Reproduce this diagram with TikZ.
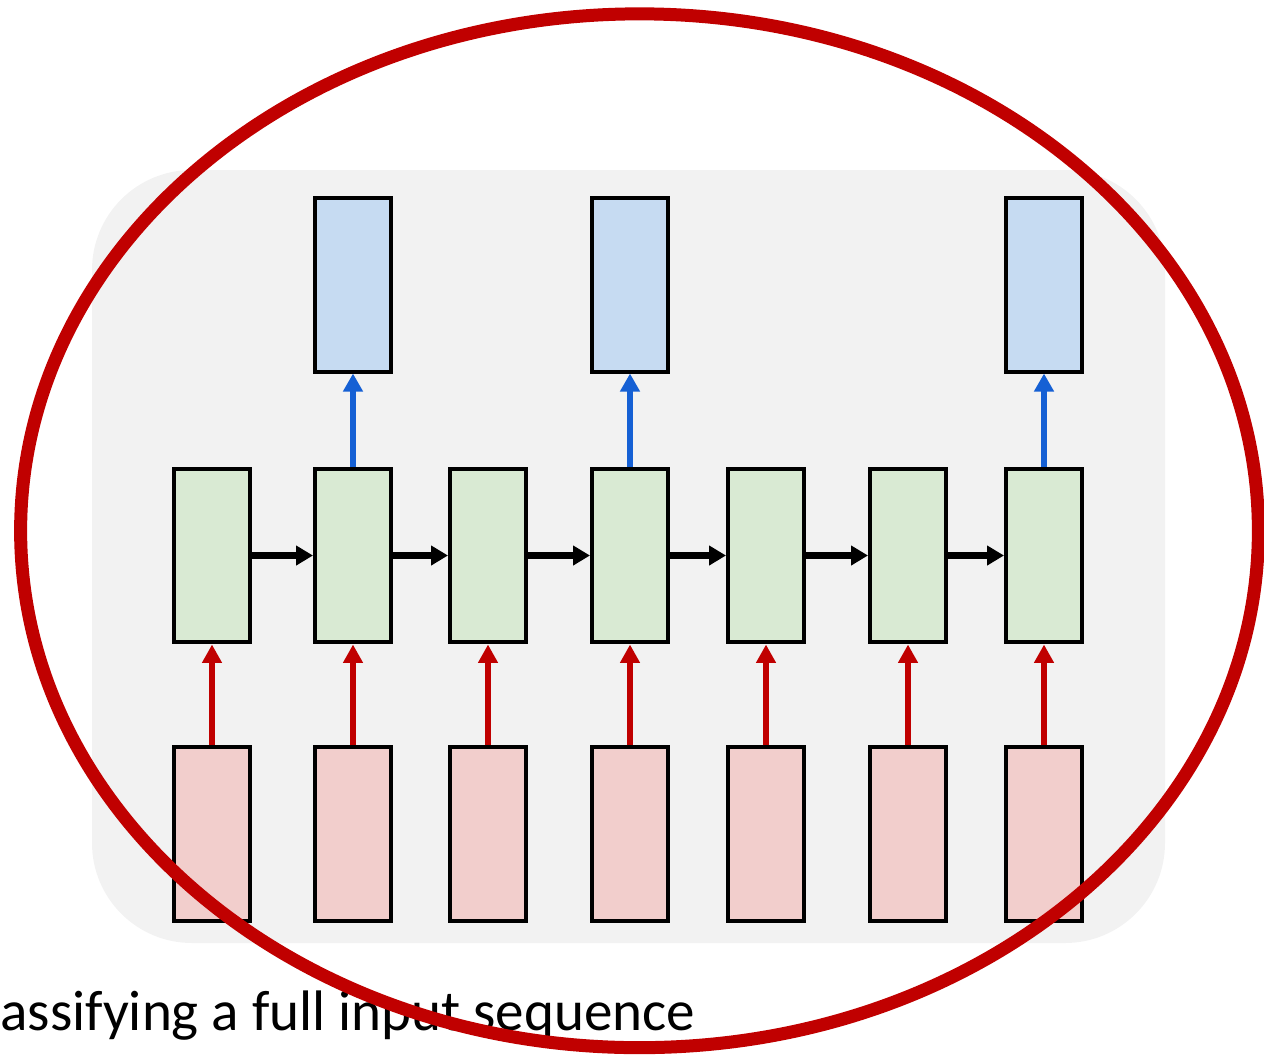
\documentclass[tikz,border=0pt]{standalone}
\usepackage{fontspec}
\setmainfont{Carlito}
\usepackage{tikz}
\usetikzlibrary{arrows.meta,positioning}
\definecolor{bgGray}{HTML}{F2F2F2}
\definecolor{hidGreen}{HTML}{D9EAD3}
\definecolor{outBlue}{HTML}{C6DBF2}
\definecolor{inPink}{HTML}{F2CECC}
\definecolor{ringRed}{HTML}{C00000}
\definecolor{upBlue}{HTML}{1560D4}
\tikzstyle{cell}=[rectangle, draw=black, line width=0.08cm,
		minimum width=1.52cm, minimum height=3.48cm, inner sep=0pt]
\tikzstyle{hidden}=[cell, fill=hidGreen]
\tikzstyle{output}=[cell, fill=outBlue]
\tikzstyle{input}=[cell, fill=inPink]
\tikzstyle{recur}=[-{Triangle[length=0.34cm,width=0.38cm]}, line width=0.13cm, black]
\tikzstyle{feed}=[-{Triangle[length=0.37cm,width=0.38cm]}, line width=0.13cm, ringRed]
\tikzstyle{emit}=[-{Triangle[length=0.36cm,width=0.38cm]}, line width=0.13cm, upBlue]

\begin{document}
\begin{tikzpicture}[x=0.02cm, y=-0.02cm]

    \useasboundingbox (0,0) rectangle (1264,1059);
    \fill[bgGray, rounded corners=2cm] (92,170) rectangle (1165,943);

    % hidden states
    \node (H1) [hidden] at (212,555.5) {};
    \node (H2) [hidden] at (353,555.5) {};
    \node (H3) [hidden] at (488,555.5) {};
    \node (H4) [hidden] at (630,555.5) {};
    \node (H5) [hidden] at (766,555.5) {};
    \node (H6) [hidden] at (908,555.5) {};
    \node (H7) [hidden] at (1044,555.5) {};

    % inputs
    \node (X1) [input, below=2.02cm of H1] {};
    \node (X2) [input, below=2.02cm of H2] {};
    \node (X3) [input, below=2.02cm of H3] {};
    \node (X4) [input, below=2.02cm of H4] {};
    \node (X5) [input, below=2.02cm of H5] {};
    \node (X6) [input, below=2.02cm of H6] {};
    \node (X7) [input, below=2.02cm of H7] {};

    % outputs
    \node (Y2) [output, above=1.86cm of H2] {};
    \node (Y4) [output, above=1.86cm of H4] {};
    \node (Y7) [output, above=1.86cm of H7] {};

    \draw [recur] (H1) -- (H2);
    \draw [recur] (H2) -- (H3);
    \draw [recur] (H3) -- (H4);
    \draw [recur] (H4) -- (H5);
    \draw [recur] (H5) -- (H6);
    \draw [recur] (H6) -- (H7);

    \draw [feed] (X1) -- (H1);
    \draw [feed] (X2) -- (H2);
    \draw [feed] (X3) -- (H3);
    \draw [feed] (X4) -- (H4);
    \draw [feed] (X5) -- (H5);
    \draw [feed] (X6) -- (H6);
    \draw [feed] (X7) -- (H7);

    \draw [emit] (H2) -- (Y2);
    \draw [emit] (H4) -- (Y4);
    \draw [emit] (H7) -- (Y7);

    \node (Caption) [anchor=base west, inner sep=0pt, font=\fontsize{32.5}{36}\selectfont]
      at (0,1030) {assifying a full input sequence};

    \coordinate (Centre) at (639.5,530.75);
    \draw [ringRed, line width=0.26cm] (Centre) ellipse [x radius=12.38cm, y radius=10.34cm];

\end{tikzpicture}
\end{document}
